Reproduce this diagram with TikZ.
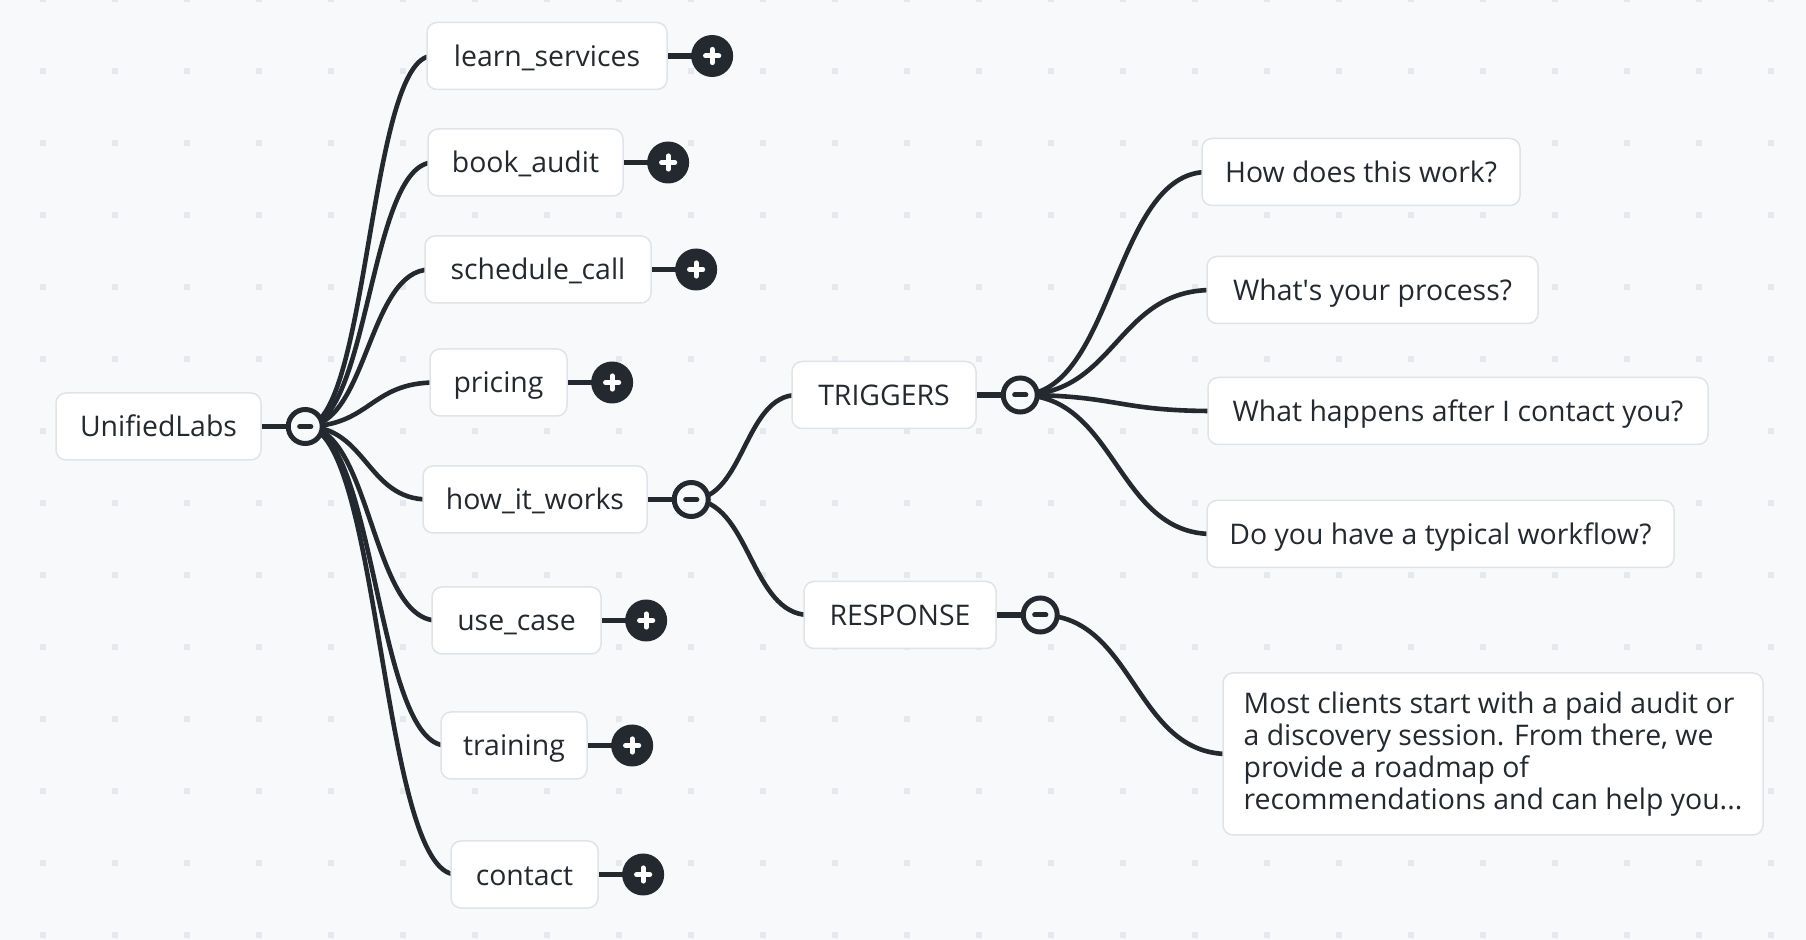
\documentclass[tikz,border=0pt]{standalone}
\usepackage{fontspec}
\setmainfont{Open Sans}
\usetikzlibrary{positioning,calc}

\definecolor{ink}{RGB}{36,41,47}
\definecolor{paper}{RGB}{247,249,251}
\definecolor{dotgray}{RGB}{229,232,236}
\definecolor{edgegray}{RGB}{224,227,231}

\pgfdeclarelayer{grid}
\pgfdeclarelayer{wires}
\pgfsetlayers{grid,wires,main}

\begin{document}
\begin{tikzpicture}[
  x=0.5pt, y=-0.5pt,
  node distance=11.5pt,
  card/.style={rectangle, rounded corners=5pt, draw=edgegray, line width=0.75pt, fill=white, text=ink, inner xsep=0pt, font=\fontsize{14.2}{16}\selectfont},
  topic/.style={card, minimum height=33.5pt, text height=13pt, text depth=2.5pt, text centered},
  note/.style={card, align=left, minimum width=270pt, minimum height=81pt},
  closeddot/.style={circle, fill=ink, minimum size=21pt, inner sep=0pt,
    path picture={\draw[white, line width=2.5pt, line cap=round]
      (path picture bounding box.center) ++(-3.3pt,0) -- ++(6.6pt,0)
      (path picture bounding box.center) ++(0,-3.3pt) -- ++(0,6.6pt);}},
  openeddot/.style={circle, draw=ink, fill=paper, line width=2.5pt, minimum size=17pt, inner sep=0pt,
    path picture={\draw[ink, line width=2.5pt, line cap=round]
      (path picture bounding box.center) ++(-2.8pt,0) -- ++(5.6pt,0);}},
  stub/.style={ink, line width=2.8pt},
  branch/.style={ink, line width=2.3pt}
]

% Canvas and dot grid
\useasboundingbox (0,0) rectangle (1806,940);
\begin{pgfonlayer}{grid}
\fill[paper] (0,0) rectangle (1806,940);
\foreach \i in {0,...,24}
  \foreach \j in {0,...,13}
    \fill[dotgray] (39.7+72*\i, -4.3+72*\j) rectangle ++(6,6);
\end{pgfonlayer}

% Root and first level
\node[topic, minimum width=102.5pt] (root) at (158.5,426.5) {UnifiedLabs};
\node[topic, minimum width=120pt] (learn) at (547,56) {learn\_services};
\node[topic, minimum width=97.5pt] (book) at (525.5,162.5) {book\_audit};
\node[topic, minimum width=113pt] (schedule) at (538,269.5) {schedule\_call};
\node[topic, minimum width=68.5pt] (pricing) at (498.5,382.5) {pricing};
\node[topic, minimum width=112pt] (how) at (535,499.5) {how\_it\_works};
\node[topic, minimum width=84.5pt] (usecase) at (516.5,620.5) {use\_case};
\node[topic, minimum width=73pt] (training) at (514,745.5) {training};
\node[topic, minimum width=73.5pt] (contact) at (524.5,874.5) {contact};

% Second level
\node[topic, minimum width=92pt] (triggers) at (884,395) {TRIGGERS};
\node[topic, minimum width=96pt] (response) at (900,615) {RESPONSE};

% Third level
\node[topic, minimum width=159pt] (q1) at (1361,172) {How does this work?};
\node[topic, minimum width=165.5pt] (q2) at (1372.5,290) {What\textquotesingle s your process?};
\node[topic, minimum width=250pt] (q3) at (1458,411) {What happens after I contact you?};
\node[topic, minimum width=233.5pt] (q4) at (1440.5,534) {Do you have a typical workflow?};
\node[note] (answer) at (1493,754) {Most clients start with a paid audit or\\a discovery session. From there, we\\provide a roadmap of\\recommendations and can help you...};

% Fold toggles
\node[openeddot, right=12pt of root] (rootdot) {};
\node[closeddot, right=of learn] (learndot) {};
\node[closeddot, right=of book] (bookdot) {};
\node[closeddot, right=of schedule] (scheduledot) {};
\node[closeddot, right=of pricing] (pricingdot) {};
\node[openeddot, right=12pt of how] (howdot) {};
\node[closeddot, right=of usecase] (usecasedot) {};
\node[closeddot, right=of training] (trainingdot) {};
\node[closeddot, right=of contact] (contactdot) {};
\node[openeddot, right=12pt of triggers] (triggersdot) {};
\node[openeddot, right=12pt of response] (responsedot) {};

\begin{pgfonlayer}{wires}
% Stubs from boxes to toggles
\foreach \n in {root,learn,book,schedule,pricing,how,usecase,training,contact,triggers,response}
  \draw[stub] (\n.east) -- (\n dot.center);

% Branches
\foreach \from/\to in {rootdot/learn, rootdot/book, rootdot/schedule, rootdot/pricing,
    rootdot/how, rootdot/usecase, rootdot/training, rootdot/contact,
    howdot/triggers, howdot/response,
    triggersdot/q1, triggersdot/q2, triggersdot/q3, triggersdot/q4,
    responsedot/answer}
{
  \path (\from.center) coordinate (s) ($(\to.west)+(6,0)$) coordinate (e) ($(s)!0.5!(e)$) coordinate (m);
  \draw[branch] (s) .. controls (m |- s) and (m |- e) .. (e);
}
\end{pgfonlayer}

\end{tikzpicture}
\end{document}
